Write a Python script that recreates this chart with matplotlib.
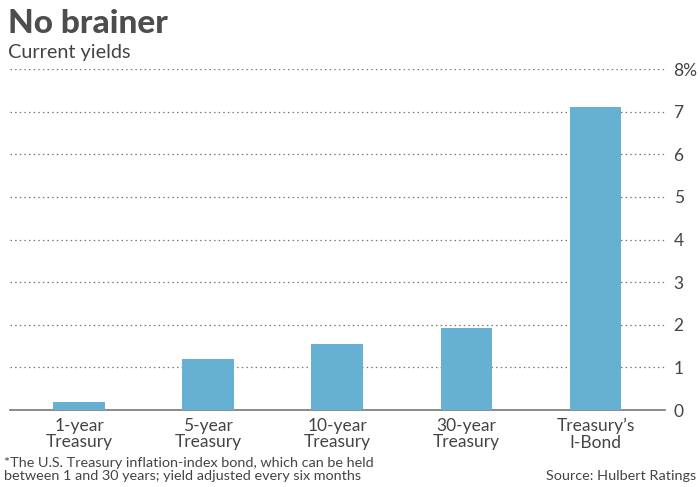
import matplotlib.pyplot as plt
import numpy as np

categories = ['1-year\nTreasury', '5-year\nTreasury', '10-year\nTreasury',
              '30-year\nTreasury', 'Treasury\u2019s\nI-Bond']
yields = [0.19, 1.2, 1.55, 1.92, 7.12]
y_ticks = [0, 1, 2, 3, 4, 5, 6, 7, 8]
y_tick_labels = ['0', '1', '2', '3', '4', '5', '6', '7', '8%']

plt.rcParams['font.family'] = ['Lato', 'DejaVu Sans']
text_color = '#444444'
bar_color = '#66b1d1'

fig = plt.figure(figsize=(7, 4.87), dpi=100)
ax = fig.add_axes([0.0143, 0.158, 0.936, 0.70])

x = np.arange(len(categories))
ax.bar(x, yields, width=0.4, color=bar_color, zorder=3)

ax.set_xlim(-0.535, 4.54)
ax.set_ylim(0, 8)
ax.set_yticks(y_ticks)
ax.set_yticklabels(y_tick_labels)
ax.yaxis.tick_right()
ax.tick_params(axis='y', length=0, pad=6, labelsize=12.5, labelcolor=text_color)
ax.set_xticks(x)
ax.set_xticklabels(categories)
ax.tick_params(axis='x', length=0, pad=5.5, labelsize=12.5, labelcolor=text_color)
for lbl in ax.get_xticklabels():
    lbl.set_linespacing(1.05)

ax.grid(axis='y', linestyle=(0, (1.2, 2.5)), color='#777777', linewidth=0.9, zorder=0)
for s in ['top', 'left', 'right']:
    ax.spines[s].set_visible(False)
ax.spines['bottom'].set_color('#777777')
ax.spines['bottom'].set_linewidth(1.2)

fig.text(0.011, 0.982, 'No brainer', fontsize=24, fontweight='black',
         color='#4d4d4d', va='top', ha='left')
fig.text(0.011, 0.91, 'Current yields', fontsize=14.3, color=text_color,
         va='top', ha='left')
fig.text(0.006, 0.01, '*The U.S. Treasury inflation-index bond, which can be held\n'
         'between 1 and 30 years; yield adjusted every six months',
         fontsize=10.4, color=text_color, va='bottom', ha='left', linespacing=1.1)
fig.text(0.995, 0.01, 'Source: Hulbert Ratings', fontsize=10.4, color=text_color,
         va='bottom', ha='right')

fig.savefig('out.png', dpi=100)
